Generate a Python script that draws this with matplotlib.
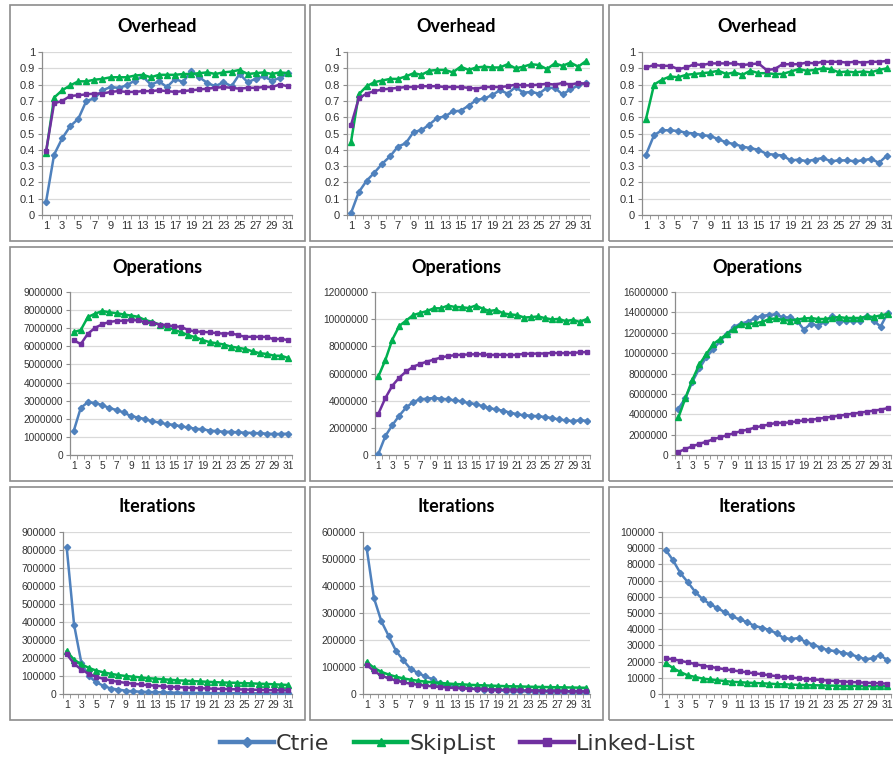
import matplotlib
matplotlib.use("Agg")
import matplotlib.pyplot as plt
from matplotlib.lines import Line2D
from matplotlib.patches import Rectangle
from matplotlib.ticker import FuncFormatter, MultipleLocator

# Data
x = list(range(1, 32))
series_names = ["Ctrie", "SkipList", "Linked-List"]

overhead_1_ctrie = [0.08, 0.37, 0.47, 0.545, 0.59, 0.70, 0.715, 0.765, 0.785, 0.78, 0.795, 0.825, 0.85, 0.80, 0.82, 0.785,
                    0.835, 0.815, 0.885, 0.845, 0.81, 0.79, 0.815, 0.79, 0.865, 0.815, 0.835, 0.85, 0.825, 0.84, 0.87]
overhead_1_skip = [0.38, 0.72, 0.765, 0.795, 0.82, 0.82, 0.83, 0.835, 0.845, 0.845, 0.845, 0.855, 0.86, 0.845, 0.86, 0.86,
                   0.86, 0.865, 0.865, 0.87, 0.875, 0.865, 0.875, 0.88, 0.89, 0.865, 0.87, 0.875, 0.865, 0.875, 0.87]
overhead_1_linked = [0.39, 0.685, 0.70, 0.73, 0.735, 0.74, 0.745, 0.745, 0.755, 0.76, 0.755, 0.755, 0.76, 0.76, 0.765, 0.76,
                     0.755, 0.76, 0.765, 0.77, 0.775, 0.78, 0.785, 0.78, 0.775, 0.78, 0.78, 0.785, 0.785, 0.80, 0.79]

overhead_2_ctrie = [0.01, 0.14, 0.21, 0.26, 0.315, 0.36, 0.42, 0.44, 0.51, 0.52, 0.555, 0.595, 0.605, 0.635, 0.64, 0.67,
                    0.705, 0.715, 0.735, 0.765, 0.745, 0.785, 0.75, 0.755, 0.745, 0.78, 0.78, 0.74, 0.77, 0.795, 0.81]
overhead_2_skip = [0.445, 0.74, 0.79, 0.815, 0.825, 0.835, 0.835, 0.85, 0.87, 0.86, 0.885, 0.89, 0.89, 0.875, 0.91, 0.89,
                   0.905, 0.91, 0.905, 0.905, 0.925, 0.90, 0.91, 0.925, 0.92, 0.895, 0.93, 0.915, 0.935, 0.91, 0.945]
overhead_2_linked = [0.55, 0.715, 0.745, 0.76, 0.77, 0.775, 0.78, 0.785, 0.785, 0.79, 0.79, 0.79, 0.785, 0.785, 0.785, 0.78,
                     0.775, 0.785, 0.785, 0.785, 0.79, 0.80, 0.795, 0.795, 0.80, 0.805, 0.80, 0.81, 0.80, 0.81, 0.805]

overhead_3_ctrie = [0.37, 0.49, 0.52, 0.52, 0.515, 0.505, 0.50, 0.49, 0.485, 0.465, 0.445, 0.435, 0.42, 0.41, 0.40, 0.375,
                    0.37, 0.365, 0.335, 0.34, 0.33, 0.34, 0.35, 0.33, 0.335, 0.335, 0.33, 0.335, 0.345, 0.32, 0.365]
overhead_3_skip = [0.59, 0.80, 0.83, 0.85, 0.845, 0.86, 0.865, 0.87, 0.875, 0.885, 0.865, 0.875, 0.86, 0.885, 0.87, 0.87,
                   0.865, 0.865, 0.88, 0.895, 0.885, 0.89, 0.90, 0.895, 0.875, 0.88, 0.875, 0.88, 0.875, 0.89, 0.90]
overhead_3_linked = [0.905, 0.92, 0.915, 0.915, 0.895, 0.905, 0.925, 0.92, 0.93, 0.93, 0.93, 0.93, 0.92, 0.925, 0.93, 0.89,
                     0.895, 0.925, 0.925, 0.925, 0.935, 0.93, 0.94, 0.94, 0.94, 0.935, 0.94, 0.935, 0.94, 0.94, 0.945]

ops_1_ctrie = [1.30e6, 2.60e6, 2.92e6, 2.87e6, 2.75e6, 2.60e6, 2.48e6, 2.35e6, 2.15e6, 2.07e6, 1.98e6, 1.85e6, 1.80e6,
               1.70e6, 1.67e6, 1.58e6, 1.52e6, 1.45e6, 1.42e6, 1.35e6, 1.32e6, 1.28e6, 1.28e6, 1.25e6, 1.23e6, 1.22e6,
               1.20e6, 1.18e6, 1.16e6, 1.16e6, 1.18e6]
ops_1_skip = [6.78e6, 6.90e6, 7.62e6, 7.80e6, 7.95e6, 7.88e6, 7.83e6, 7.76e6, 7.70e6, 7.63e6, 7.45e6, 7.35e6, 7.20e6,
              7.05e6, 6.92e6, 6.78e6, 6.62e6, 6.50e6, 6.35e6, 6.23e6, 6.17e6, 6.10e6, 5.98e6, 5.92e6, 5.85e6, 5.72e6,
              5.62e6, 5.58e6, 5.48e6, 5.48e6, 5.35e6]
ops_1_linked = [6.35e6, 6.12e6, 6.70e6, 7.02e6, 7.22e6, 7.35e6, 7.40e6, 7.42e6, 7.44e6, 7.44e6, 7.32e6, 7.30e6, 7.20e6,
                7.18e6, 7.10e6, 7.08e6, 6.90e6, 6.82e6, 6.80e6, 6.77e6, 6.73e6, 6.70e6, 6.72e6, 6.62e6, 6.52e6, 6.53e6,
                6.52e6, 6.52e6, 6.38e6, 6.42e6, 6.33e6]

ops_2_ctrie = [0.10e6, 1.40e6, 2.20e6, 2.90e6, 3.50e6, 3.90e6, 4.10e6, 4.15e6, 4.20e6, 4.15e6, 4.10e6, 4.02e6, 3.95e6,
               3.82e6, 3.75e6, 3.60e6, 3.45e6, 3.35e6, 3.25e6, 3.12e6, 3.00e6, 2.92e6, 2.90e6, 2.85e6, 2.80e6, 2.72e6,
               2.62e6, 2.55e6, 2.50e6, 2.55e6, 2.52e6]
ops_2_skip = [5.80e6, 7.00e6, 8.50e6, 9.50e6, 9.90e6, 10.30e6, 10.45e6, 10.60e6, 10.80e6, 10.80e6, 11.00e6, 10.90e6,
              10.88e6, 10.82e6, 11.00e6, 10.78e6, 10.60e6, 10.68e6, 10.42e6, 10.35e6, 10.30e6, 10.12e6, 10.15e6,
              10.20e6, 10.08e6, 9.98e6, 10.02e6, 9.85e6, 9.95e6, 9.80e6, 10.00e6]
ops_2_linked = [3.05e6, 4.20e6, 5.10e6, 5.70e6, 6.15e6, 6.50e6, 6.70e6, 6.88e6, 7.02e6, 7.18e6, 7.28e6, 7.35e6, 7.38e6,
                7.40e6, 7.42e6, 7.42e6, 7.35e6, 7.38e6, 7.38e6, 7.35e6, 7.38e6, 7.45e6, 7.45e6, 7.47e6, 7.47e6, 7.52e6,
                7.50e6, 7.50e6, 7.52e6, 7.55e6, 7.58e6]

ops_3_ctrie = [4.55e6, 5.60e6, 7.20e6, 8.50e6, 9.60e6, 10.40e6, 11.20e6, 11.90e6, 12.60e6, 12.90e6, 13.10e6, 13.45e6,
               13.65e6, 13.75e6, 13.80e6, 13.50e6, 13.50e6, 13.20e6, 12.30e6, 12.90e6, 12.65e6, 13.10e6, 13.60e6,
               13.10e6, 13.20e6, 13.20e6, 13.20e6, 13.60e6, 13.20e6, 12.60e6, 13.90e6]
ops_3_skip = [3.70e6, 5.60e6, 7.40e6, 8.90e6, 9.90e6, 10.90e6, 11.40e6, 11.90e6, 12.40e6, 12.85e6, 12.80e6, 12.95e6,
              13.05e6, 13.35e6, 13.40e6, 13.25e6, 13.20e6, 13.30e6, 13.40e6, 13.45e6, 13.35e6, 13.35e6, 13.45e6,
              13.55e6, 13.45e6, 13.45e6, 13.45e6, 13.60e6, 13.55e6, 13.70e6, 13.85e6]
ops_3_linked = [0.30e6, 0.60e6, 0.85e6, 1.10e6, 1.30e6, 1.55e6, 1.75e6, 1.95e6, 2.15e6, 2.35e6, 2.50e6, 2.70e6, 2.85e6,
                3.00e6, 3.15e6, 3.15e6, 3.20e6, 3.30e6, 3.40e6, 3.45e6, 3.55e6, 3.65e6, 3.75e6, 3.85e6, 3.95e6, 4.05e6,
                4.15e6, 4.25e6, 4.35e6, 4.45e6, 4.60e6]

iter_1_ctrie = [815000, 385000, 170000, 100000, 65000, 45000, 30000, 25000, 18000, 15000, 13000, 11000, 10000, 9000,
                8000, 7000, 6500, 6000, 5500, 5000, 4800, 4600, 4400, 4200, 4000, 3800, 3600, 3400, 3300, 3100, 3000]
iter_1_skip = [238000, 190000, 165000, 145000, 130000, 120000, 112000, 105000, 100000, 96000, 92000, 88000, 85000,
               82000, 79000, 76000, 74000, 72000, 70000, 68000, 66000, 64000, 63000, 62000, 60000, 59000, 57000,
               56000, 54000, 52000, 50000]
iter_1_linked = [222000, 168000, 135000, 112000, 95000, 84000, 75000, 67000, 62000, 57000, 53000, 49000, 46000, 43000,
                 40000, 38000, 36000, 34000, 32000, 31000, 29000, 28000, 27000, 26000, 25000, 24000, 23000, 22000,
                 21000, 20500, 20000]

iter_2_ctrie = [540000, 355000, 270000, 215000, 160000, 125000, 93000, 78000, 65000, 55000, 40000, 33000, 28000, 24000,
                21000, 18000, 16000, 14000, 13000, 12000, 11000, 10000, 9500, 9000, 8500, 8000, 7500, 7000, 7000,
                6500, 6000]
iter_2_skip = [118000, 97000, 82000, 72000, 64000, 58000, 53000, 49000, 46000, 43000, 41000, 39000, 37000, 36000, 34000,
               33000, 32000, 31000, 30000, 29000, 28500, 28000, 27000, 26500, 26000, 25500, 25000, 24500, 24000,
               23500, 23000]
iter_2_linked = [108000, 85000, 68000, 58000, 50000, 43000, 38000, 34000, 31000, 28000, 26000, 24000, 22000, 21000,
                 19500, 18500, 17500, 16500, 15500, 15000, 14000, 13500, 13000, 12500, 12000, 11500, 11000, 10500,
                 10000, 10000, 9500]

iter_3_ctrie = [89000, 82500, 74500, 69000, 63000, 58500, 55500, 53000, 50500, 48000, 46000, 44500, 42000, 41000, 39500,
                37500, 34500, 34000, 34500, 32000, 30500, 28500, 27000, 26500, 25500, 24500, 23000, 21500, 22000,
                24000, 21000]
iter_3_skip = [19000, 16000, 13500, 11500, 10500, 9500, 9000, 8500, 8000, 7500, 7300, 7000, 6800, 6600, 6400, 6100,
               6000, 5800, 5600, 5500, 5400, 5300, 5200, 5100, 5000, 5000, 4900, 4900, 4800, 4800, 4700]
iter_3_linked = [22000, 21500, 20500, 19500, 18500, 17500, 16800, 16000, 15300, 14600, 14000, 13400, 12800, 12200,
                 11600, 11000, 10500, 10200, 9700, 9300, 9000, 8600, 8300, 8000, 7700, 7400, 7200, 7000, 6800, 6600, 6400]

colors = ["#4F81BD", "#00B050", "#7030A0"]
markers = ["D", "^", "s"]
msizes = [3.2, 4.2, 3.4]

W, H = 893, 758
fig = plt.figure(figsize=(W / 100, H / 100), dpi=100)
fig.patch.set_facecolor("white")


def fmt(v, pos):
    if abs(v - round(v)) < 1e-9:
        return str(int(round(v)))
    return f"{v:g}"


def panel(box, plot, title, title_y, ymax, ystep, data, labelsize):
    # border around each chart
    bx0, by0, bx1, by1 = box
    fig.add_artist(Rectangle((bx0 / W, 1 - by1 / H), (bx1 - bx0) / W, (by1 - by0) / H,
                             transform=fig.transFigure, fill=False, edgecolor="#8c8c8c", linewidth=1.2))
    fig.text((bx0 + bx1) / 2 / W, 1 - title_y / H, title, ha="center", va="center",
             fontsize=13, fontweight="bold", family="Lato", color="black")
    l, t, r, b = plot
    ax = fig.add_axes([l / W, 1 - b / H, (r - l) / W, (b - t) / H])
    for vals, c, m, ms in zip(data, colors, markers, msizes):
        ax.plot(x, vals, color=c, marker=m, markersize=ms, linewidth=1.8, zorder=3)
    ax.set_xlim(0.5, 31.5)
    ax.set_ylim(0, ymax)
    ax.yaxis.set_major_locator(MultipleLocator(ystep))
    ax.yaxis.set_major_formatter(FuncFormatter(fmt))
    ax.set_xticks(x[::2])
    ax.set_xticks([i + 0.5 for i in range(0, 32)], minor=True)
    ax.grid(axis="y", color="#d9d9d9", linewidth=0.9)
    ax.set_axisbelow(True)
    for s in ["top", "right"]:
        ax.spines[s].set_visible(False)
    for s in ["left", "bottom"]:
        ax.spines[s].set_color("#8c8c8c")
        ax.spines[s].set_linewidth(0.9)
    ax.tick_params(axis="x", which="major", length=0, pad=4)
    ax.tick_params(axis="x", which="minor", length=3, color="#8c8c8c")
    ax.tick_params(axis="y", length=3, color="#8c8c8c", pad=2)
    ax.tick_params(labelsize=labelsize, labelcolor="#333333")
    for lab in ax.get_xticklabels() + ax.get_yticklabels():
        lab.set_family("Liberation Sans")
    return ax


col_boxes = [(10, 305), (310, 603), (609, 905)]
row_boxes = [(5, 241), (247, 481), (487, 720)]
title_ys = [27, 268, 507]
label_sizes = [8, 7.3, 7.5]

plots = [
    [(42, 52, 292, 215), (347, 52, 590, 215), (642, 52, 891, 215)],
    [(70, 292, 292, 455), (375, 292, 590, 455), (675, 292, 891, 455)],
    [(63, 532, 292, 694), (363, 532, 590, 694), (662, 532, 891, 694)],
]

titles = ["Overhead", "Operations", "Iterations"]
limits = [
    [(1, 0.1), (1, 0.1), (1, 0.1)],
    [(9e6, 1e6), (12e6, 2e6), (16e6, 2e6)],
    [(900000, 100000), (600000, 100000), (100000, 10000)],
]
data = [
    [(overhead_1_ctrie, overhead_1_skip, overhead_1_linked),
     (overhead_2_ctrie, overhead_2_skip, overhead_2_linked),
     (overhead_3_ctrie, overhead_3_skip, overhead_3_linked)],
    [(ops_1_ctrie, ops_1_skip, ops_1_linked),
     (ops_2_ctrie, ops_2_skip, ops_2_linked),
     (ops_3_ctrie, ops_3_skip, ops_3_linked)],
    [(iter_1_ctrie, iter_1_skip, iter_1_linked),
     (iter_2_ctrie, iter_2_skip, iter_2_linked),
     (iter_3_ctrie, iter_3_skip, iter_3_linked)],
]

for r in range(3):
    for c in range(3):
        box = (col_boxes[c][0], row_boxes[r][0], col_boxes[c][1], row_boxes[r][1])
        ymax, ystep = limits[r][c]
        panel(box, plots[r][c], titles[r], title_ys[r], ymax, ystep, data[r][c], label_sizes[r])

# Legend
handles = [Line2D([], [], color=c, marker=m, markersize=ms + 2, linewidth=3.2)
           for c, m, ms in zip(colors, markers, msizes)]
fig.legend(handles, series_names, loc="center", bbox_to_anchor=(458 / W, 1 - 744 / H), ncol=3,
           frameon=False, handlelength=2.4, handletextpad=0.1, columnspacing=1.1,
           prop={"family": "DejaVu Sans", "size": 16}, labelcolor="#333333")

plt.savefig("out.png", dpi=100)
